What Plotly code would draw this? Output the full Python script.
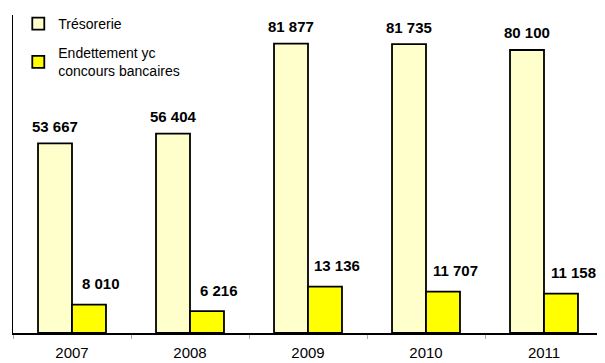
import plotly.graph_objects as go

years = ["2007", "2008", "2009", "2010", "2011"]
tresorerie = [53667, 56404, 81877, 81735, 80100]
endettement = [8010, 6216, 13136, 11707, 11158]
name_t = "Trésorerie"
name_e = "Endettement yc<br>concours bancaires"

def fmt(v):
    return f"{v:,}".replace(",", " ")

fig = go.Figure()
fig.add_trace(go.Bar(x=years, y=tresorerie, name=name_t, legendgroup="a",
                     marker=dict(color="#FFFFCC", line=dict(color="black", width=1.8))))
fig.add_trace(go.Bar(x=years, y=endettement, name=name_e, legendgroup="b",
                     marker=dict(color="#FFFF00", line=dict(color="black", width=1.8))))

lab_font = dict(family="Liberation Sans, Arial", size=15, color="black", weight="bold")
anns = []
for i, v in enumerate(tresorerie):
    anns.append(dict(x=i, y=v, xref="x", yref="y", text=fmt(v), showarrow=False,
                     xshift=-17, yshift=17, yanchor="middle", font=lab_font))
for i, v in enumerate(endettement):
    anns.append(dict(x=i, y=v, xref="x", yref="y", text=fmt(v), showarrow=False,
                     xshift=29, yshift=21, yanchor="middle", font=lab_font))

fig.update_layout(
    width=605, height=363,
    margin=dict(l=5, r=10, t=7, b=38, autoexpand=False),
    paper_bgcolor="white", plot_bgcolor="white",
    barmode="group", bargap=0.424, bargroupgap=0,
    font=dict(family="Liberation Sans, Arial", size=15, color="black"),
    showlegend=True,
    legend=dict(xref="container", yref="container", x=0.017, y=1.027,
                xanchor="left", yanchor="top",
                font=dict(size=14, color="black"), tracegroupgap=8,
                bgcolor="rgba(0,0,0,0)"),
    annotations=anns,
)
fig.update_xaxes(type="category", range=[-0.5, len(years) - 0.5], automargin=False,
                 showline=True, linecolor="black", linewidth=1.5,
                 ticks="outside", tickson="boundaries", ticklen=4, tickcolor="#aaaaaa",
                 ticklabelstandoff=5,
                 showgrid=False, tickfont=dict(size=15))
fig.update_yaxes(range=[0, 90000], automargin=False, showline=True, linecolor="black",
                 linewidth=1, showticklabels=False, ticks="", showgrid=False,
                 zeroline=False)

fig.write_html("out.html")
